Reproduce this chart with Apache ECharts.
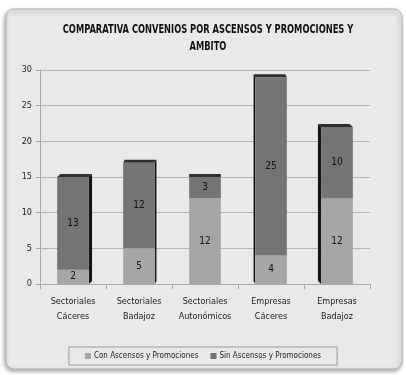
<!DOCTYPE html>
<html>
<head>
<meta charset="utf-8">
<script src="https://cdn.jsdelivr.net/npm/echarts@6/dist/echarts.min.js"></script>
<style>
  html, body { margin: 0; padding: 0; background: #ffffff; }
  #chart { width: 406px; height: 375px; }
</style>
</head>
<body>
<div id="chart"></div>
<script>
// Convenios por ámbito, separados según incluyan ascensos y promociones
const categories = [
  'Sectoriales\nCáceres',
  'Sectoriales\nBadajoz',
  'Sectoriales\nAutonómicos',
  'Empresas\nCáceres',
  'Empresas\nBadajoz'
];
const conAscensos = [2, 5, 12, 4, 12];
const sinAscensos = [13, 12, 3, 25, 10];
const yTicks = [0, 5, 10, 15, 20, 25, 30];
const titleText = 'COMPARATIVA CONVENIOS POR ASCENSOS Y PROMOCIONES Y\nAMBITO';

const FONT = '"DejaVu Sans Condensed", "Liberation Sans", sans-serif';
const totals = conAscensos.map((v, i) => v + sinAscensos[i]);

const chart = echarts.init(document.getElementById('chart'), null, { renderer: 'canvas' });

// Dark side and top faces give the columns a little depth
function renderDepth(params, api) {
  const idx = api.value(0);
  const total = api.value(1);
  const base = api.coord([idx, 0]);
  const top = api.coord([idx, total]);
  const w = api.size([1, 0])[0] * 0.48;
  const x0 = base[0] - w / 2, x1 = base[0] + w / 2;
  const y0 = base[1], y1 = top[1];
  const dx = (2 - idx) * 1.6;
  const dy = 3;
  const children = [{
    type: 'polygon',
    shape: { points: [[x0, y1], [x1, y1], [x1 + dx, y1 - dy], [x0 + dx, y1 - dy]] },
    style: { fill: '#2e2e2e' }
  }];
  if (dx !== 0) {
    const xs = dx > 0 ? x1 : x0;
    children.push({
      type: 'polygon',
      shape: { points: [[xs, y1], [xs + dx, y1 - dy], [xs + dx, y0 - dy], [xs, y0]] },
      style: { fill: '#141414' }
    });
  }
  return { type: 'group', children: children };
}

chart.setOption({
  animation: false,
  backgroundColor: '#ffffff',
  graphic: [
    {
      type: 'rect',
      z: -10,
      shape: { x: 6, y: 9, width: 396, height: 360, r: 8 },
      style: {
        fill: '#e8e9eb',
        stroke: '#b5b5b5',
        lineWidth: 1,
        shadowColor: 'rgba(0,0,0,0.35)',
        shadowBlur: 4,
        shadowOffsetX: -1,
        shadowOffsetY: 2
      }
    },
    {
      // narrowed heading text
      type: 'text',
      x: 208,
      y: 21,
      scaleX: 0.77,
      z: 10,
      style: {
        text: titleText,
        align: 'center',
        verticalAlign: 'top',
        fontFamily: FONT,
        fontSize: 12,
        fontWeight: 'bold',
        lineHeight: 17,
        fill: '#111'
      }
    }
  ],
  legend: {
    data: ['Con Ascensos y Promociones', 'Sin Ascensos y Promociones'],
    bottom: 10,
    left: 'center',
    itemWidth: 6,
    itemHeight: 6,
    itemGap: 12,
    padding: [5, 16, 5, 16],
    borderColor: '#9a9a9a',
    borderWidth: 1,
    icon: 'rect',
    textStyle: { fontFamily: FONT, fontSize: 8, color: '#222', padding: [0, 0, 0, -2] }
  },
  grid: { left: 40, right: 36, top: 70, bottom: 91 },
  xAxis: {
    type: 'category',
    data: categories,
    axisLine: { lineStyle: { color: '#a8a8a8' } },
    axisTick: { show: true, lineStyle: { color: '#a8a8a8' } },
    axisLabel: {
      fontFamily: FONT,
      fontSize: 9,
      color: '#222',
      lineHeight: 15,
      margin: 10,
      interval: 0
    }
  },
  yAxis: {
    type: 'value',
    min: yTicks[0],
    max: yTicks[yTicks.length - 1],
    interval: 5,
    axisLine: { show: true, lineStyle: { color: '#a8a8a8' } },
    axisTick: { show: true, length: 4, lineStyle: { color: '#a8a8a8' } },
    splitLine: { lineStyle: { color: '#b4b4b4' } },
    axisLabel: { fontFamily: FONT, fontSize: 9, color: '#222', margin: 8 }
  },
  series: [
    {
      type: 'custom',
      name: 'depth',
      renderItem: renderDepth,
      data: totals.map((t, i) => [i, t]),
      z: 1,
      silent: true
    },
    {
      name: 'Con Ascensos y Promociones',
      type: 'bar',
      stack: 'total',
      barWidth: '48%',
      z: 3,
      data: conAscensos,
      itemStyle: { color: '#a4a5a7' },
      label: {
        show: true,
        position: 'inside',
        fontFamily: FONT,
        fontSize: 10,
        color: '#111'
      }
    },
    {
      name: 'Sin Ascensos y Promociones',
      type: 'bar',
      stack: 'total',
      barWidth: '48%',
      z: 3,
      data: sinAscensos,
      itemStyle: { color: '#737476' },
      label: {
        show: true,
        position: 'inside',
        fontFamily: FONT,
        fontSize: 10,
        color: '#111'
      }
    }
  ]
});
</script>
</body>
</html>
